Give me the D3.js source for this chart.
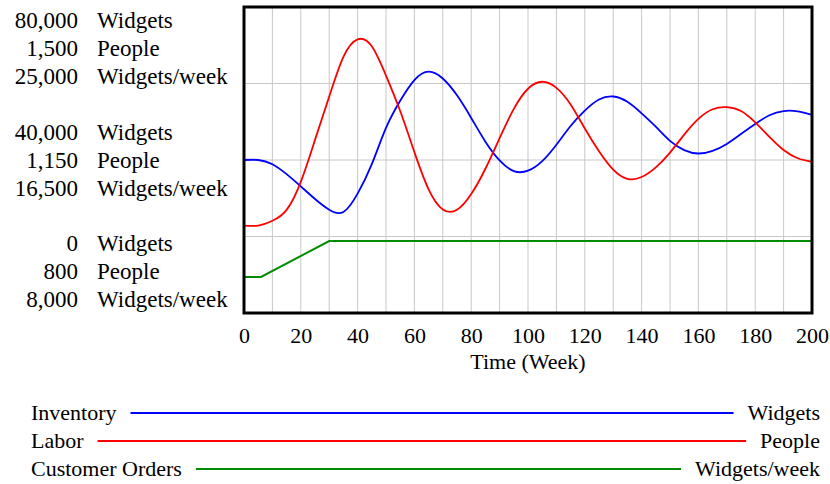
<!DOCTYPE html>
<html>
<head>
<meta charset="utf-8">
<title>Inventory, Labor, Customer Orders</title>
<script src="https://d3js.org/d3.v7.min.js"></script>
<style>
  body { margin: 0; background: #fff; }
  text { font-family: "Liberation Serif", "Times New Roman", serif; fill: #000; }
</style>
</head>
<body>
<script>
// time axis (weeks) shared by inventory and labor
var weeks = [0, 5, 10, 15, 20, 25, 30, 35, 40, 45, 50, 55, 60, 65, 70, 75, 80, 85, 90, 95, 100,
             105, 110, 115, 120, 125, 130, 135, 140, 145, 150, 155, 160, 165, 170, 175, 180, 185, 190, 195, 200];

var inventory = [40000, 40000, 38900, 36300, 33100, 29800, 27000, 26400, 31200, 38900, 48400,
                 55500, 60900, 63100, 61300, 56900, 51000, 44800, 39900, 37100, 37200,
                 39700, 44000, 48900, 52900, 55800, 56600, 55200, 52200, 48700, 45000,
                 42600, 41700, 42400, 44200, 46800, 49400, 51700, 52800, 52700, 51800];

var labor = [1000, 1000, 1011, 1036, 1100, 1196, 1295, 1386, 1426, 1410, 1343,
             1262, 1168, 1083, 1037, 1036, 1072, 1130, 1200, 1267, 1313,
             1329, 1315, 1277, 1222, 1170, 1128, 1107, 1111, 1133, 1167,
             1208, 1244, 1266, 1271, 1262, 1236, 1203, 1173, 1154, 1146];

var orderWeeks = [0, 6, 30, 200];
var customerOrders = [10000, 10000, 12000, 12000];

var xTicks = [0, 20, 40, 60, 80, 100, 120, 140, 160, 180, 200];

var seriesNames = ["Inventory", "Labor", "Customer Orders"];
var seriesUnits = ["Widgets", "People", "Widgets/week"];
var seriesColors = ["#0000ff", "#ff0000", "#008c00"];

// axis labels, top / middle / bottom for each scale
var invLabels = ["80,000", "40,000", "0"];
var labLabels = ["1,500", "1,150", "800"];
var ordLabels = ["25,000", "16,500", "8,000"];

var W = 830, H = 484;
var pL = 244, pR = 812, pT = 7, pB = 313;

var svg = d3.select("body").append("svg")
  .attr("width", W)
  .attr("height", H);

var x = d3.scaleLinear().domain([0, 200]).range([pL, pR]);
var yInv = d3.scaleLinear().domain([0, 80000]).range([pB, pT]);
var yLab = d3.scaleLinear().domain([800, 1500]).range([pB, pT]);
var yOrd = d3.scaleLinear().domain([8000, 25000]).range([pB, pT]);

// grid
var grid = svg.append("g");
grid.selectAll("line.v")
  .data(d3.range(10, 200, 10))
  .enter().append("line")
  .attr("x1", function(d) { return x(d); })
  .attr("x2", function(d) { return x(d); })
  .attr("y1", pT)
  .attr("y2", pB)
  .attr("stroke", "#c8c8c8")
  .attr("stroke-width", 1);
grid.selectAll("line.h")
  .data([20000, 40000, 60000])
  .enter().append("line")
  .attr("x1", pL)
  .attr("x2", pR)
  .attr("y1", function(d) { return yInv(d); })
  .attr("y2", function(d) { return yInv(d); })
  .attr("stroke", "#c8c8c8")
  .attr("stroke-width", 1);

// series
var lineInv = d3.line()
  .x(function(d, i) { return x(weeks[i]); })
  .y(function(d) { return yInv(d); })
  .curve(d3.curveNatural);
var lineLab = d3.line()
  .x(function(d, i) { return x(weeks[i]); })
  .y(function(d) { return yLab(d); })
  .curve(d3.curveNatural);
var lineOrd = d3.line()
  .x(function(d, i) { return x(orderWeeks[i]); })
  .y(function(d) { return yOrd(d); });

svg.append("path").attr("d", lineOrd(customerOrders))
  .attr("fill", "none").attr("stroke", seriesColors[2]).attr("stroke-width", 2);
svg.append("path").attr("d", lineInv(inventory))
  .attr("fill", "none").attr("stroke", seriesColors[0]).attr("stroke-width", 1.8);
svg.append("path").attr("d", lineLab(labor))
  .attr("fill", "none").attr("stroke", seriesColors[1]).attr("stroke-width", 1.8);

// frame
svg.append("rect")
  .attr("x", pL).attr("y", pT)
  .attr("width", pR - pL).attr("height", pB - pT)
  .attr("fill", "none").attr("stroke", "#000").attr("stroke-width", 3);

// x axis
var xAxis = svg.append("g")
  .attr("transform", "translate(0," + pB + ")")
  .call(d3.axisBottom(x).tickValues(xTicks).tickSize(0).tickPadding(14));
xAxis.select(".domain").remove();
xAxis.selectAll("text")
  .style("font-family", "Liberation Serif, serif")
  .style("font-size", "22px")
  .attr("fill", "#000");

svg.append("text")
  .attr("x", (pL + pR) / 2)
  .attr("y", 369)
  .attr("text-anchor", "middle")
  .style("font-size", "22px")
  .text("Time (Week)");

// left scale labels
var groupCenters = [48, (pT + pB) / 2, 271];
groupCenters.forEach(function(cy, g) {
  var nums = [invLabels[g], labLabels[g], ordLabels[g]];
  nums.forEach(function(n, k) {
    var by = cy + (k - 1) * 28 + 8;
    svg.append("text")
      .attr("x", 78).attr("y", by)
      .attr("text-anchor", "end")
      .style("font-size", "23px")
      .text(n);
    svg.append("text")
      .attr("x", 97).attr("y", by)
      .style("font-size", "23px")
      .text(seriesUnits[k]);
  });
});

// legend
var legendY = [413, 441, 469];
seriesNames.forEach(function(name, i) {
  var t1 = svg.append("text")
    .attr("x", 31).attr("y", legendY[i] + 7)
    .style("font-size", "22px")
    .text(name);
  var t2 = svg.append("text")
    .attr("x", 820).attr("y", legendY[i] + 7)
    .attr("text-anchor", "end")
    .style("font-size", "22px")
    .text(seriesUnits[i]);
  var w1 = t1.node().getComputedTextLength();
  var w2 = t2.node().getComputedTextLength();
  svg.append("line")
    .attr("x1", 31 + w1 + 14)
    .attr("x2", 820 - w2 - 14)
    .attr("y1", legendY[i]).attr("y2", legendY[i])
    .attr("stroke", seriesColors[i]).attr("stroke-width", 2);
});
</script>
</body>
</html>
